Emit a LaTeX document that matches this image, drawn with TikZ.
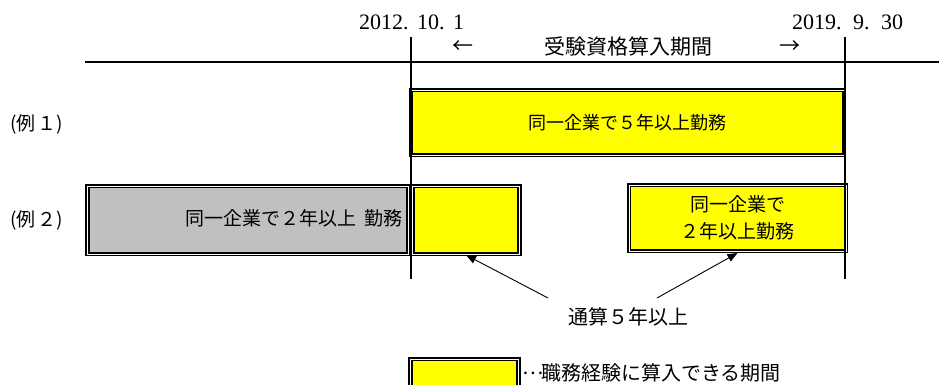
\documentclass[tikz,border=0pt]{standalone}
\usepackage{fontspec}
\newfontfamily\jpf{Noto Sans CJK JP}
\newfontfamily\dtf{Liberation Serif}
\usetikzlibrary{arrows.meta}
\definecolor{yfill}{RGB}{255,255,0}
\definecolor{gfill}{RGB}{192,192,192}
\newcommand\fdot{\makebox[14pt][l]{.}}
\tikzset{
  x=1pt, y=-1pt,
  dbl/.style={draw=black, line width=1.7pt, double=white, double distance=0.9pt, inner sep=0, outer sep=0},
  ybox/.style={dbl, fill=yfill},
  gbox/.style={dbl, fill=gfill},
  txt/.style={inner sep=0, font=\jpf\fontsize{19}{27}\selectfont},
  hdr/.style={inner sep=0, font=\jpf\fontsize{21}{24}\selectfont},
  datef/.style={inner sep=0, anchor=base west, font=\dtf\fontsize{22}{24}\selectfont},
  tline/.style={line width=1.3pt},
  ptr/.style={line width=0.9pt, -{Triangle[length=10pt,width=8pt]}},
}
\begin{document}
\begin{tikzpicture}
\useasboundingbox (0,0) rectangle (939,385);
% timeline
\coordinate (hl) at (85,62);
\coordinate (hr) at (939,62);
\coordinate (v1t) at (411,37);
\coordinate (v1b) at (411,279);
\coordinate (v2t) at (845,37);
\coordinate (v2b) at (845,279);
% dates and header
\node[datef] (d1) at (359,30) {2012\fdot 10\fdot 1};
\node[datef] (d2) at (792,30) {2019\fdot\hspace{3pt}9\fdot\hspace{3pt}30};
\node[hdr] (la) at (463,47) {←};
\node[hdr, anchor=west] (hd) at (544,47) {受験資格算入期間};
\node[hdr] (ra) at (790,47) {→};
% example labels
\node[txt, anchor=west] (e1) at (10,124) {(例\hspace{2pt}１)};
\node[txt, anchor=west] (e2) at (10,220) {(例\hspace{2pt}２)};
% boxes
\node[ybox, minimum width=433pt, minimum height=65pt] (b1) at (627.5,122.5) {\jpf\fontsize{18}{24}\selectfont 同一企業で５年以上勤務};
\node[gbox, minimum width=321pt, minimum height=68pt] (g2) at (248,220) {};
\node[txt, anchor=east] (g2t) at (403,218) {同一企業で２年以上\hspace{8pt}勤務};
\node[ybox, minimum width=107pt, minimum height=68pt] (y2) at (466,220) {};
\node[ybox, minimum width=217pt, minimum height=66pt, align=center, font=\jpf\fontsize{19}{27}\selectfont] (r2) at (737.5,218) {同一企業で\\２年以上勤務};
% timeline lines on top
\draw[tline] (hl) -- (hr);
\draw[tline] (v1t) -- (v1b);
\draw[tline] (v2t) -- (v2b);
% total label and pointers
\node[txt, font=\jpf\fontsize{20}{24}\selectfont] (tot) at (628,317) {通算５年以上};
\coordinate (t1) at (548,298);
\coordinate (t2) at (657,298);
\draw[ptr] (t1) -- ([yshift=-1pt]y2.south);
\draw[ptr] (t2) -- ([yshift=-2pt]r2.south);
% legend
\node[ybox, minimum width=108pt, minimum height=36pt] (lg) at (464.5,377) {};
\node[txt, anchor=west, font=\jpf\fontsize{20}{24}\selectfont] (lgt) at (522,373) {\makebox[19pt][l]{\raisebox{6pt}{…}}職務経験に算入できる期間};
\end{tikzpicture}
\end{document}
